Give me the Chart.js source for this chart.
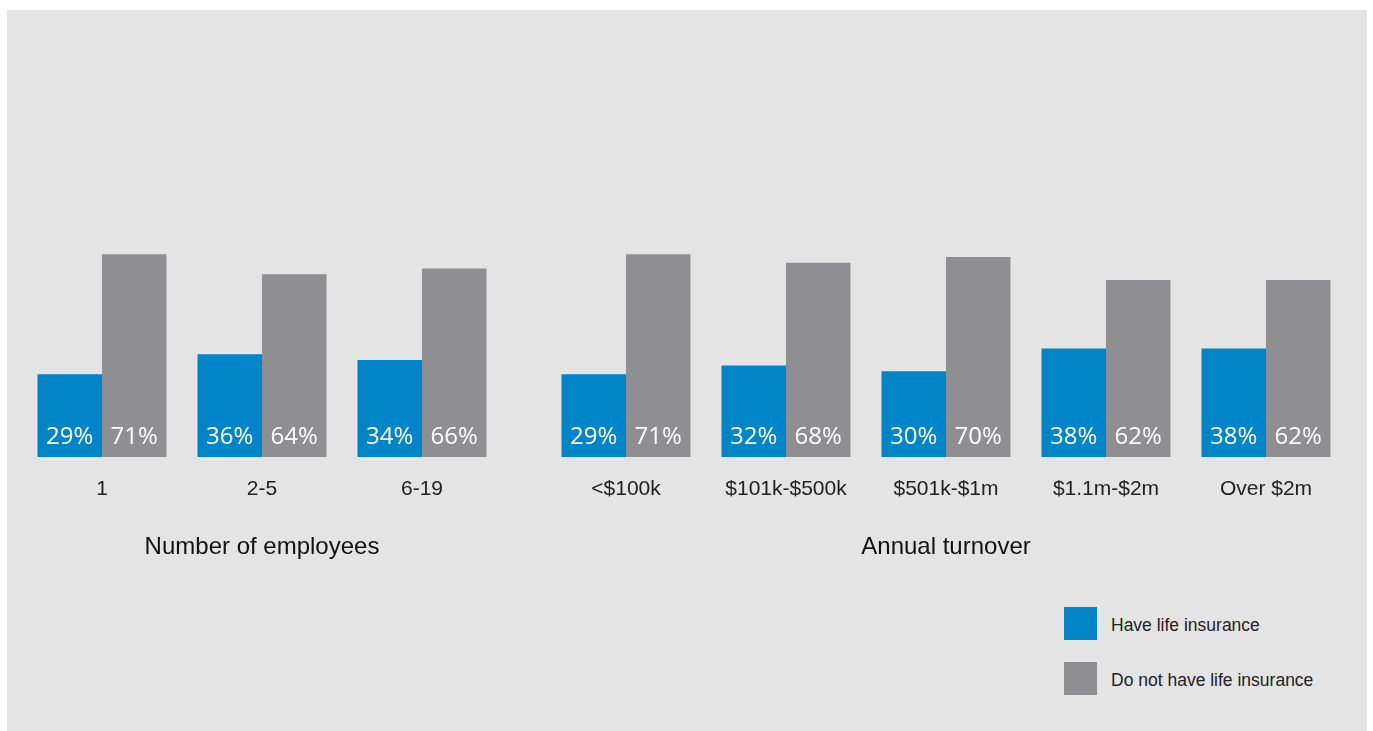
<!DOCTYPE html>
<html>
<head>
<meta charset="utf-8">
<title>Life insurance by business size</title>
<script src="https://cdn.jsdelivr.net/npm/chart.js@4.4.1/dist/chart.umd.min.js"></script>
<style>
  body { margin: 0; background: #ffffff; width: 1373px; height: 731px; overflow: hidden; position: relative; }
  .panel { position: absolute; left: 7px; top: 10px; width: 1360px; height: 721px; background: #e4e4e4; }
  .box { position: absolute; top: 140px; height: 422px; }
  #box1 { left: 22px; width: 480px; }
  #box2 { left: 546px; width: 800px; }
  .legend { position: absolute; left: 1064px; top: 607px; font-family: "Liberation Sans", Arial, sans-serif; font-size: 17.5px; color: #222; }
  .legend div { display: flex; align-items: center; height: 33px; margin-bottom: 22px; }
  .legend span.sw { display: inline-block; width: 33px; height: 33px; margin-right: 14px; }
  .legend span.txt { padding-top: 4px; }
</style>
</head>
<body>
<div class="panel"></div>
<div class="box" id="box1"><canvas id="empChart"></canvas></div>
<div class="box" id="box2"><canvas id="turnChart"></canvas></div>
<div class="legend" id="legend"></div>

<script>
// data
const seriesNames = ['Have life insurance', 'Do not have life insurance'];
const seriesColors = ['#0085c9', '#8f8f91'];

const employeeLabels = ['1', '2-5', '6-19'];
const employeeHave = [29, 36, 34];
const employeeNot = [71, 64, 66];

const turnoverLabels = ['<$100k', '$101k-$500k', '$501k-$1m', '$1.1m-$2m', 'Over $2m'];
const turnoverHave = [29, 32, 30, 38, 38];
const turnoverNot = [71, 68, 70, 62, 62];

// percentage text inside the bottom of each bar
const barValueLabels = {
    id: 'barValueLabels',
    afterDatasetsDraw(chart) {
        const ctx = chart.ctx;
        ctx.save();
        ctx.font = '24px "Open Sans", sans-serif';
        ctx.fillStyle = '#ffffff';
        ctx.textAlign = 'center';
        ctx.textBaseline = 'alphabetic';
        chart.data.datasets.forEach((ds, i) => {
            chart.getDatasetMeta(i).data.forEach((bar, j) => {
                ctx.fillText(ds.data[j] + '%', bar.x, bar.base - 13.5);
            });
        });
        ctx.restore();
    }
};

function makeChart(id, labels, have, not, title) {
    return new Chart(document.getElementById(id), {
        type: 'bar',
        data: {
            labels: labels,
            datasets: [
                { label: seriesNames[0], data: have, backgroundColor: seriesColors[0] },
                { label: seriesNames[1], data: not, backgroundColor: seriesColors[1] }
            ]
        },
        options: {
            responsive: true,
            maintainAspectRatio: false,
            animation: false,
            layout: { padding: 0 },
            categoryPercentage: 0.806,
            barPercentage: 1.0,
            plugins: {
                legend: { display: false },
                tooltip: { enabled: false }
            },
            scales: {
                x: {
                    grid: { display: false, drawTicks: false },
                    border: { display: false },
                    ticks: {
                        padding: 20,
                        color: '#222',
                        font: { family: '"Liberation Sans", Arial, sans-serif', size: 21 }
                    },
                    title: {
                        display: true,
                        text: title,
                        color: '#111',
                        padding: { top: 11, bottom: 0 },
                        font: { family: '"Liberation Sans", Arial, sans-serif', size: 24 }
                    }
                },
                y: {
                    display: false,
                    min: 0,
                    max: 111
                }
            }
        },
        plugins: [barValueLabels]
    });
}

makeChart('empChart', employeeLabels, employeeHave, employeeNot, 'Number of employees');
makeChart('turnChart', turnoverLabels, turnoverHave, turnoverNot, 'Annual turnover');

// legend
const legend = document.getElementById('legend');
seriesNames.forEach((name, i) => {
    const row = document.createElement('div');
    const sw = document.createElement('span');
    sw.className = 'sw';
    sw.style.background = seriesColors[i];
    const txt = document.createElement('span');
    txt.className = 'txt';
    txt.textContent = name;
    row.appendChild(sw);
    row.appendChild(txt);
    legend.appendChild(row);
});
</script>
</body>
</html>
